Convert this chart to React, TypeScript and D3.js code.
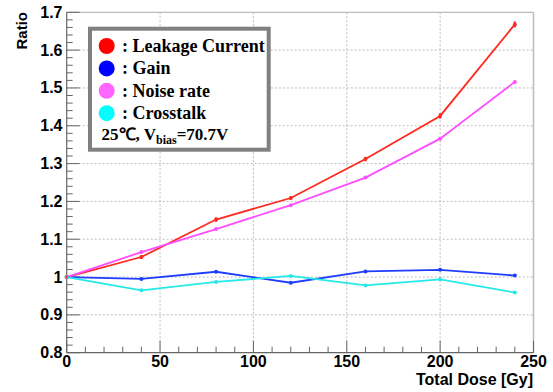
import React from "react";
import * as d3 from "d3";

const doses = [0, 40, 80, 120, 160, 200, 240];
const leakage = [1.0, 1.053, 1.152, 1.209, 1.312, 1.426, 1.668];
const leakageErr = [0.004, 0.005, 0.006, 0.005, 0.006, 0.007, 0.008];
const gain = [1.0, 0.995, 1.014, 0.985, 1.015, 1.019, 1.004];
const noise = [1.0, 1.066, 1.127, 1.19, 1.263, 1.366, 1.516];
const crosstalk = [1.0, 0.965, 0.987, 1.003, 0.978, 0.994, 0.959];

const xTicks = [0, 50, 100, 150, 200, 250];
const yTicks = [0.8, 0.9, 1, 1.1, 1.2, 1.3, 1.4, 1.5, 1.6, 1.7];

const seriesNames = ["Leakage Current", "Gain", "Noise rate", "Crosstalk"];
const lineColors = ["#ff2a1f", "#1f3dff", "#ff4dff", "#26e8e8"];
const legendColors = ["#ff0000", "#0000ff", "#ff66ff", "#00ffff"];

const W = 553, H = 392;
const L = 66.7, R = 533.5, T = 12.3, B = 352.7;

export default function App() {
  const x = d3.scaleLinear().domain([0, 250]).range([L, R]);
  const y = d3.scaleLinear().domain([0.8, 1.7]).range([B, T]);
  const series = [leakage, gain, noise, crosstalk];
  const line = d3
    .line<[number, number]>()
    .x((d) => x(d[0]))
    .y((d) => y(d[1]));

  const xMinor = d3.range(0, 251, 10);
  const yMinor = d3.range(0, 46).map((i) => 0.8 + i * 0.02);
  const sans = "'Liberation Sans', Arial, sans-serif";
  const serif = "'Liberation Serif', 'Times New Roman', serif";

  return (
    <svg width={W} height={H} style={{ position: "absolute", left: 0, top: 0 }}>
      <rect width={W} height={H} fill="#fff" />
      {/* grid */}
      {xTicks.slice(1, -1).map((t) => (
        <line key={"gx" + t} x1={x(t)} x2={x(t)} y1={T} y2={B} stroke="#aaa" strokeWidth={0.8} strokeDasharray="2,2" />
      ))}
      {yTicks.slice(1, -1).map((t) => (
        <line key={"gy" + t} x1={L} x2={R} y1={y(t)} y2={y(t)} stroke="#aaa" strokeWidth={0.8} strokeDasharray="2,2" />
      ))}
      {/* frame */}
      <line x1={L} x2={R} y1={T} y2={T} stroke="#bbb" strokeWidth={1.2} />
      <line x1={R} x2={R} y1={T} y2={B} stroke="#bbb" strokeWidth={1.5} />
      <line x1={L} x2={L} y1={T} y2={B} stroke="#666" strokeWidth={1.2} />
      <line x1={L} x2={R} y1={B} y2={B} stroke="#666" strokeWidth={1.2} />
      {/* ticks */}
      {xMinor.map((t) => (
        <line key={"xt" + t} x1={x(t)} x2={x(t)} y1={B} y2={B - (t % 50 === 0 ? 12 : 6)} stroke="#666" strokeWidth={1} />
      ))}
      {yMinor.map((t, i) => (
        <line key={"yt" + i} x1={L} x2={L + (i % 5 === 0 ? 13 : 6)} y1={y(t)} y2={y(t)} stroke="#666" strokeWidth={1} />
      ))}
      {/* tick labels */}
      {xTicks.map((t) => (
        <text key={"xl" + t} x={x(t)} y={367} textAnchor="middle" fontFamily={sans} fontWeight="bold" fontSize={16} fill="#000">
          {t}
        </text>
      ))}
      {yTicks.map((t) => (
        <text key={"yl" + t} x={62.5} y={y(t) + 5.5} textAnchor="end" fontFamily={sans} fontWeight="bold" fontSize={16} fill="#000">
          {t === 1 ? "1" : t.toFixed(1)}
        </text>
      ))}
      <text x={533} y={385} textAnchor="end" fontFamily={sans} fontWeight="bold" fontSize={16}>
        Total Dose [Gy]
      </text>
      <text transform={`translate(27,12) rotate(-90)`} textAnchor="end" fontFamily={sans} fontWeight="bold" fontSize={15}>
        Ratio
      </text>
      {/* series */}
      {series.map((s, si) => {
        const pts = doses.map((d, i) => [d, s[i]] as [number, number]);
        return (
          <g key={"s" + si}>
            <path d={line(pts) || ""} fill="none" stroke={lineColors[si]} strokeWidth={1.8} />
            {pts.map((p, i) => (
              <circle key={i} cx={x(p[0])} cy={y(p[1])} r={2} fill={lineColors[si]} />
            ))}
          </g>
        );
      })}
      {doses.map((d, i) => (
        <line key={"err" + i} x1={x(d)} x2={x(d)} y1={y(leakage[i] - leakageErr[i])} y2={y(leakage[i] + leakageErr[i])} stroke={lineColors[0]} strokeWidth={2} />
      ))}
      {/* legend */}
      <rect x={90} y={28.7} width={178.7} height={121} fill="#fff" stroke="#808080" strokeWidth={4} />
      {seriesNames.map((n, i) => {
        const by = 52 + i * 22.4;
        return (
          <g key={"lg" + i}>
            <circle cx={106.7} cy={by - 6} r={8} fill={legendColors[i]} />
            <text x={122} y={by} fontFamily={serif} fontWeight="bold" fontSize={18} fill="#000">
              : {n}
            </text>
          </g>
        );
      })}
      <text x={101.5} y={140} fontFamily={serif} fontWeight="bold" fontSize={17} fill="#000">
        25℃, V
        <tspan fontSize={12} dy={4}>bias</tspan>
        <tspan dy={-4}>=70.7V</tspan>
      </text>
    </svg>
  );
}
